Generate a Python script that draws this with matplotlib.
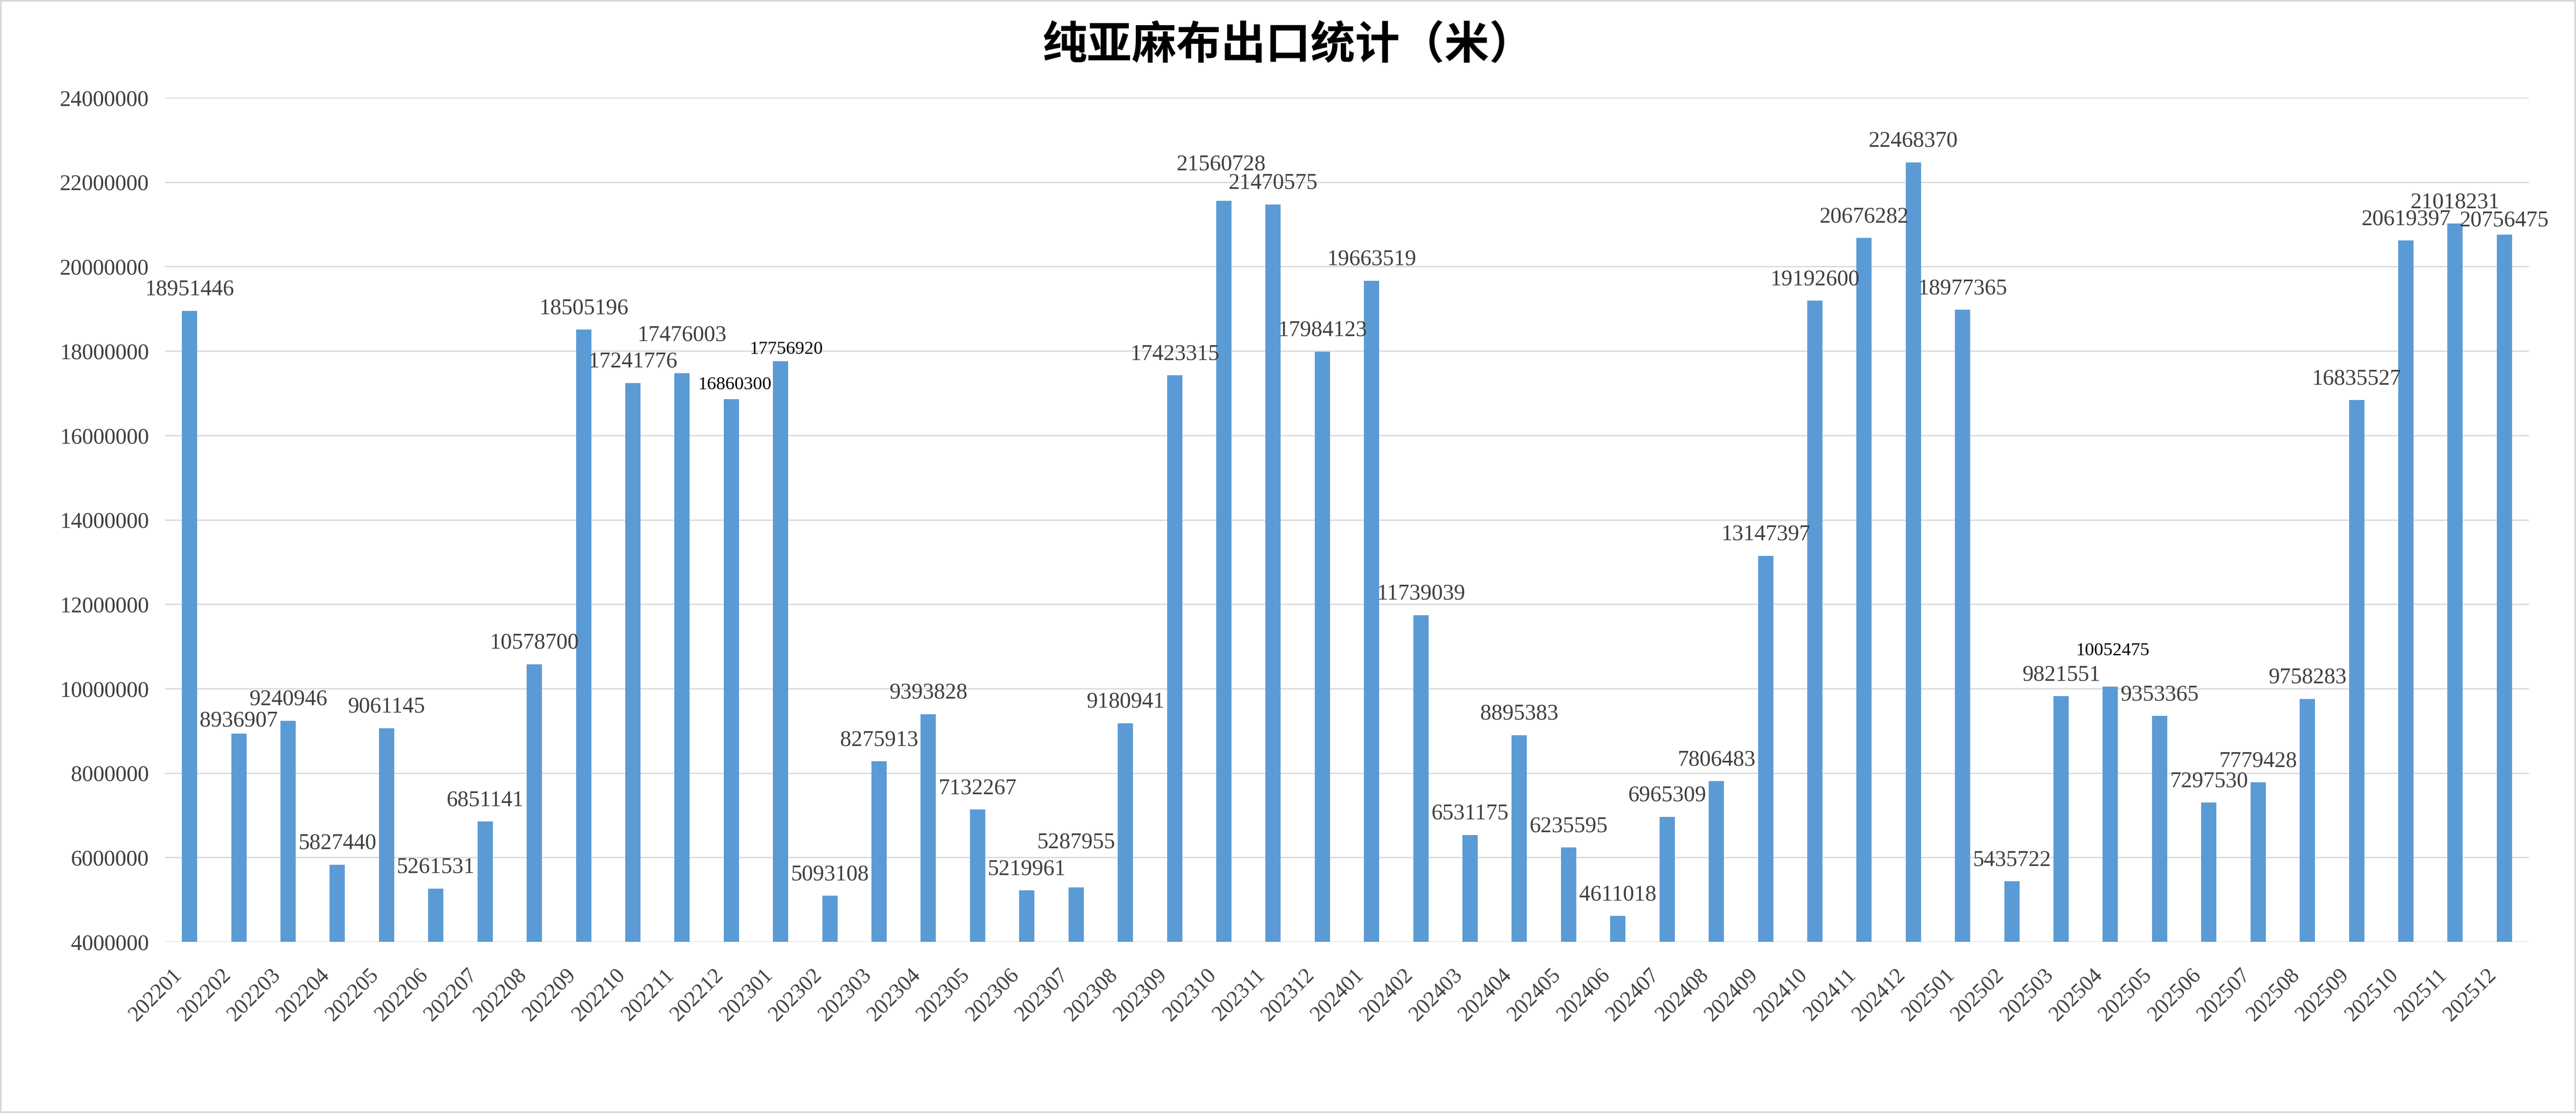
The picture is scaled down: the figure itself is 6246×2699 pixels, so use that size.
import matplotlib
matplotlib.use('Agg')
import matplotlib.pyplot as plt
import matplotlib.transforms as mtransforms

months = ['202201', '202202', '202203', '202204', '202205', '202206',
          '202207', '202208', '202209', '202210', '202211', '202212',
          '202301', '202302', '202303', '202304', '202305', '202306',
          '202307', '202308', '202309', '202310', '202311', '202312',
          '202401', '202402', '202403', '202404', '202405', '202406',
          '202407', '202408', '202409', '202410', '202411', '202412',
          '202501', '202502', '202503', '202504', '202505', '202506',
          '202507', '202508', '202509', '202510', '202511', '202512']
export_m = [18951446, 8936907, 9240946, 5827440, 9061145, 5261531,
            6851141, 10578700, 18505196, 17241776, 17476003, 16860300,
            17756920, 5093108, 8275913, 9393828, 7132267, 5219961,
            5287955, 9180941, 17423315, 21560728, 21470575, 17984123,
            19663519, 11739039, 6531175, 8895383, 6235595, 4611018,
            6965309, 7806483, 13147397, 19192600, 20676282, 22468370,
            18977365, 5435722, 9821551, 10052475, 9353365, 7297530,
            7779428, 9758283, 16835527, 20619397, 21018231, 20756475]
y_ticks = [4000000, 6000000, 8000000, 10000000, 12000000, 14000000,
           16000000, 18000000, 20000000, 22000000, 24000000]

# labels that were dragged around in the original sheet (pixels)
label_nudge = {'202202': (0, 17), '202211': (0, 78), '202212': (8, 24),
               '202301': (13, 18), '202307': (0, 96), '202310': (-7, 74),
               '202504': (5, 76), '202512': (0, 20)}
small_labels = ['202212', '202301', '202504']

num_font = 'Liberation Serif'
plt.rcParams['font.family'] = ['Noto Sans CJK SC', 'DejaVu Sans']

fig = plt.figure(figsize=(62.46, 26.99), dpi=100)
W, H = 6246, 2699
ax = fig.add_axes([400 / W, 1 - 2284 / H, (6132 - 400) / W, (2284 - 237) / H])

x = list(range(len(months)))
ax.bar(x, export_m, width=0.31, color='#5B9BD5', zorder=3)

ax.set_xlim(-0.5, len(months) - 0.5)
ax.set_ylim(y_ticks[0], y_ticks[-1])
ax.set_yticks(y_ticks)
ax.set_yticklabels([str(v) for v in y_ticks], fontfamily=num_font,
                   fontsize=39, color='#404040')
ax.yaxis.grid(True, color='#D9D9D9', linewidth=2.2, zorder=0)
ax.tick_params(axis='y', length=0, pad=28)

ax.set_xticks(x)
ax.set_xticklabels(months, rotation=45, ha='right', va='top',
                   fontfamily=num_font, fontsize=38, color='#404040')
ax.tick_params(axis='x', length=0, pad=40)
shift = mtransforms.ScaledTranslation(-10 / 100, 0, fig.dpi_scale_trans)
for lbl in ax.get_xticklabels():
    lbl.set_transform(lbl.get_transform() + shift)

for s in ax.spines.values():
    s.set_visible(False)

for i, (m, v) in enumerate(zip(months, export_m)):
    dx, dy = label_nudge.get(m, (0, 38))
    if m in small_labels:
        size, col = 32, 'black'
    else:
        size, col = 39, '#404040'
    ax.annotate(str(v), xy=(i, v), xytext=(dx, dy), textcoords='offset pixels',
                ha='center', va='baseline', fontfamily=num_font,
                fontsize=size, color=col, zorder=4)

fig.text(0.5, 1 - 110 / H, '纯亚麻布出口统计（米）', ha='center', va='center',
         fontsize=78, fontweight='bold', color='black')

# light grey frame round the whole chart
fig.patches.append(plt.Rectangle((0.0003, 0.0006), 0.9994, 0.9988,
                                 transform=fig.transFigure, fill=False,
                                 edgecolor='#D9D9D9', linewidth=3))

fig.savefig('out.png', dpi=100, facecolor='white')
